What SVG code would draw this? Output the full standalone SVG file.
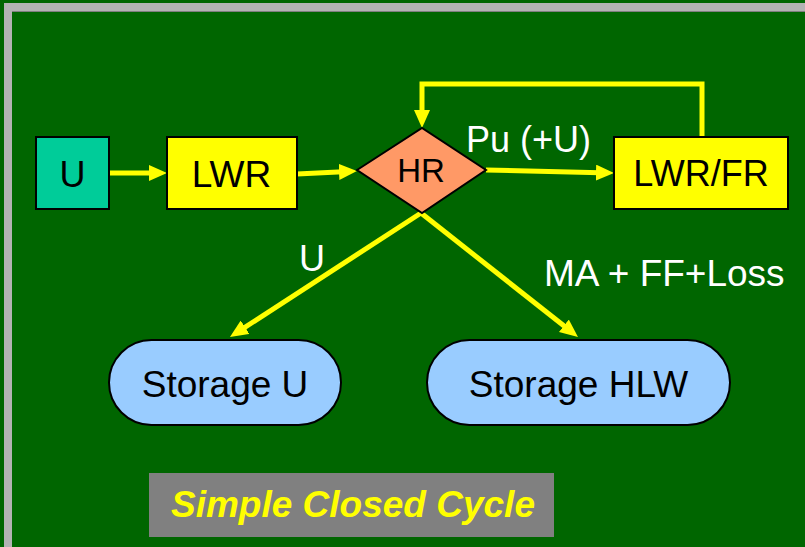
<svg xmlns="http://www.w3.org/2000/svg" width="805" height="547" viewBox="0 0 805 547">
<style>
.lbl{font-family:"Liberation Sans",Arial,sans-serif;font-size:36px;text-anchor:middle;fill:#000}
.wl{font-family:"Liberation Sans",Arial,sans-serif;font-size:36px;fill:#fff}
.box{stroke:#000;stroke-width:2}
.arr{fill:none;stroke:#FFFF00;stroke-width:5;marker-end:url(#ah)}
</style>
<defs>
<marker id="ah" markerUnits="userSpaceOnUse" markerWidth="18" markerHeight="16" refX="4" refY="8" orient="auto" viewBox="0 0 18 16">
<path d="M0,0 L18,8 L0,16 z" fill="#FFFF00"/>
</marker>
</defs>
<rect x="0" y="0" width="805" height="547" fill="#006600"/>
<rect x="8" y="7" width="820" height="570" fill="none" stroke="#B3B3B3" stroke-width="8"/>
<line x1="12" y1="11.5" x2="805" y2="11.5" stroke="#808080" stroke-width="1"/>
<g id="connectors">
<line class="arr" x1="109" y1="173" x2="153" y2="173"/>
<line class="arr" x1="297" y1="174" x2="343" y2="171.7"/>
<line class="arr" x1="486" y1="170" x2="600" y2="172.7"/>
<polyline class="arr" points="702,137 702,84 422,84 422,114"/>
<line class="arr" x1="421" y1="213" x2="241.7" y2="329.4"/>
<line class="arr" x1="421" y1="213" x2="567" y2="328.3"/>
<text class="wl" x="466" y="152">Pu (+U)</text>
<text class="wl" x="299" y="271">U</text>
<text class="wl" x="544" y="286" style="font-size:37px">MA + FF+Loss</text>
</g>
<g id="node-U">
<rect class="box" x="36" y="137" width="73" height="72" fill="#00CC99"/>
<text class="lbl" x="72.5" y="187">U</text>
</g>
<g id="node-LWR">
<rect class="box" x="167" y="137" width="130" height="72" fill="#FFFF00"/>
<text class="lbl" x="231.5" y="187" style="font-size:37px">LWR</text>
</g>
<g id="node-HR">
<polygon class="box" points="357,170 422,128 486,170 422,213" fill="#FF9966"/>
<text class="lbl" x="421" y="182" style="font-size:33px">HR</text>
</g>
<g id="node-LWRFR">
<rect class="box" x="614" y="137" width="174" height="72" fill="#FFFF00"/>
<text class="lbl" x="701" y="186">LWR/FR</text>
</g>
<g id="node-StorageU">
<rect class="box" x="109" y="340" width="232" height="85" rx="42.5" fill="#99CCFF"/>
<text class="lbl" x="225" y="397" style="font-size:37px">Storage U</text>
</g>
<g id="node-StorageHLW">
<rect class="box" x="427" y="340" width="303" height="85" rx="42.5" fill="#99CCFF"/>
<text class="lbl" x="578.5" y="397" style="font-size:37px">Storage HLW</text>
</g>
<g id="title">
<rect x="149" y="473" width="405" height="64" fill="#808080"/>
<text x="353" y="517" style="font-family:'Liberation Sans',Arial,sans-serif;font-size:37px;font-weight:bold;font-style:italic;fill:#FFFF00;text-anchor:middle">Simple Closed Cycle</text>
</g>
</svg>
